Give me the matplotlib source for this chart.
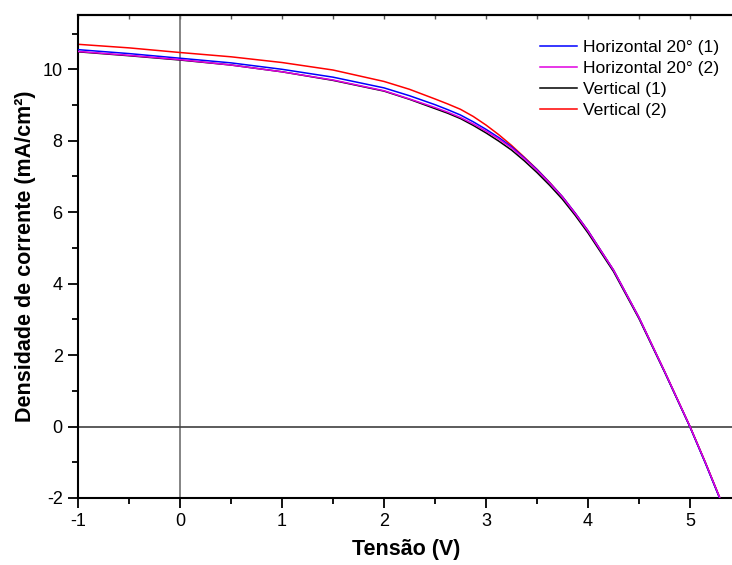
"""
Curvas J-V: densidade de corrente vs tensão para quatro amostras.
"""

import matplotlib
matplotlib.use("Agg")
import matplotlib.pyplot as plt
from matplotlib.ticker import MultipleLocator, NullFormatter

plt.rcParams['font.family'] = ['Liberation Sans', 'DejaVu Sans']
plt.rcParams['axes.unicode_minus'] = False

tensao = [-1.0, -0.5, 0.0, 0.5, 1.0, 1.5, 2.0, 2.25, 2.5, 2.625, 2.75, 2.875,
          3.0, 3.125, 3.25, 3.375, 3.5, 3.625, 3.75, 3.875, 4.0, 4.25, 4.5,
          4.75, 5.0, 5.15, 5.3]

horizontal_1 = [10.55, 10.44, 10.31, 10.18, 10.00, 9.78, 9.48, 9.26, 9.01, 8.87,
                8.72, 8.53, 8.32, 8.09, 7.83, 7.52, 7.19, 6.82, 6.43, 5.97,
                5.48, 4.38, 3.05, 1.54, -0.01, -1.02, -2.07]
horizontal_2 = [10.50, 10.39, 10.27, 10.12, 9.93, 9.70, 9.40, 9.17, 8.93, 8.80,
                8.65, 8.47, 8.27, 8.05, 7.80, 7.50, 7.17, 6.81, 6.42, 5.96,
                5.47, 4.38, 3.05, 1.55, 0.00, -1.00, -2.05]
vertical_1 = [10.49, 10.38, 10.26, 10.12, 9.93, 9.69, 9.39, 9.16, 8.90, 8.77,
              8.62, 8.43, 8.22, 7.99, 7.74, 7.44, 7.11, 6.75, 6.36, 5.91,
              5.42, 4.34, 3.02, 1.53, -0.01, -1.01, -2.06]
vertical_2 = [10.70, 10.60, 10.47, 10.35, 10.19, 9.98, 9.66, 9.44, 9.17, 9.03,
              8.88, 8.68, 8.44, 8.17, 7.87, 7.54, 7.20, 6.83, 6.43, 5.97,
              5.48, 4.38, 3.05, 1.55, 0.00, -1.00, -2.05]

labels = ['Horizontal 20° (1)', 'Horizontal 20° (2)', 'Vertical (1)', 'Vertical (2)']
colors = ['#0000ff', '#e000e0', '#000000', '#ff0000']


def main():
    fig = plt.figure(figsize=(7.32, 5.65), dpi=100)
    ax = fig.add_axes([78 / 732, 1 - 498 / 565, (735 - 78) / 732, (498 - 15) / 565])

    ax.axvline(0, color='#707070', lw=1.2, zorder=1)
    ax.axhline(0, color='#404040', lw=1.2, zorder=1)

    series = [horizontal_1, horizontal_2, vertical_1, vertical_2]
    zorders = [4, 5, 3, 2]
    handles = []
    for ys, lab, col, z in zip(series, labels, colors, zorders):
        h, = ax.plot(tensao, ys, color=col, lw=1.1, label=lab, zorder=z)
        handles.append(h)

    ax.set_xlim(-1, -1 + (735 - 78) / 102)
    ax.set_ylim(-2, 11.52)

    ax.xaxis.set_major_locator(MultipleLocator(1))
    ax.xaxis.set_minor_locator(MultipleLocator(0.5))
    ax.yaxis.set_major_locator(MultipleLocator(2))
    ax.yaxis.set_minor_locator(MultipleLocator(1))

    ax.tick_params(which='major', direction='out', length=7, width=1.3, labelsize=13, pad=4)
    ax.tick_params(which='minor', direction='out', length=4, width=1.3)

    # small inward ticks along the top frame
    top = ax.secondary_xaxis('top')
    top.xaxis.set_major_locator(MultipleLocator(0.5))
    top.xaxis.set_major_formatter(NullFormatter())
    top.tick_params(which='both', direction='in', length=3, width=1.0, color='#555555')
    top.spines['top'].set_linewidth(1.5)

    for s in ax.spines.values():
        s.set_linewidth(1.5)
    ax.spines['right'].set_visible(False)

    ax.set_xlabel('Tensão (V)', fontsize=15.5, fontweight='bold', labelpad=6)
    ax.set_ylabel('Densidade de corrente (mA/cm²)', fontsize=15.5, fontweight='bold', labelpad=5)

    ax.legend(handles=handles, loc='upper left', bbox_to_anchor=(533 / 732, 1 - 33 / 565),
              bbox_transform=fig.transFigure, frameon=False, fontsize=12.6,
              handlelength=2.1, handletextpad=0.35, labelspacing=0.33, borderaxespad=0)

    fig.savefig('out.png', dpi=100)
    plt.close(fig)


if __name__ == "__main__":
    main()
